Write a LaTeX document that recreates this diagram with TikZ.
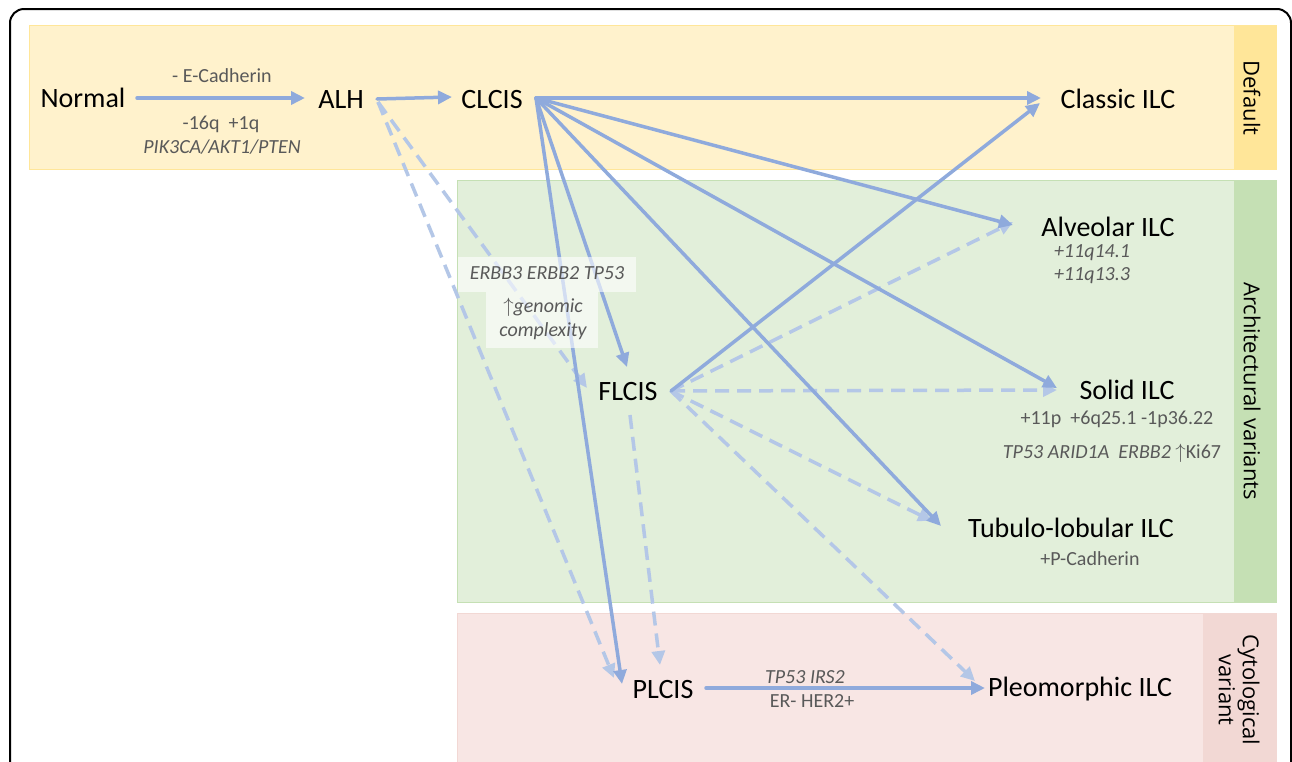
\documentclass[tikz,border=0pt]{standalone}
\usepackage{fontspec}
\setmainfont{Carlito}
\newfontfamily\bandfont{Open Sans}
\usetikzlibrary{arrows.meta}
\definecolor{solidblue}{HTML}{8FAADC}
\definecolor{dashblue}{HTML}{B4C7E7}
\definecolor{ylw}{HTML}{FFF2CC}
\definecolor{ylwstrip}{HTML}{FFE699}
\definecolor{grn}{HTML}{E2EFDA}
\definecolor{grnstrip}{HTML}{C5E0B4}
\definecolor{pnk}{HTML}{F8E6E4}
\definecolor{pnkstrip}{HTML}{F2D8D4}
\definecolor{lbl}{HTML}{595959}
\tikzset{
  mainnode/.style={font=\fontsize{28}{30}\selectfont, inner sep=0pt},
  lab/.style={font=\fontsize{20}{24}\selectfont, text=lbl, inner sep=0pt},
  ilab/.style={font=\fontsize{20}{24}\selectfont\itshape, text=lbl, inner sep=0pt},
  bandlab/.style={font=\bandfont\fontsize{22}{24}\selectfont, rotate=-90, inner sep=0pt, align=center},
  sarr/.style={draw=solidblue, line width=3.5pt, line cap=round, -{Triangle[length=14pt,width=13pt]}},
  darr/.style={draw=dashblue, line width=3.5pt, dash pattern=on 14pt off 8pt, -{Triangle[length=14pt,width=13pt]}},
  whitebox/.style={fill=white, fill opacity=0.6, draw=none}
}
\begin{document}
\begin{tikzpicture}[x=1pt,y=-1pt]
\useasboundingbox (0,0) rectangle (1292,761);
\fill[white] (0,0) rectangle (1292,761);
% outer frame
\draw[line width=2pt, rounded corners=14pt] (10,9) rectangle (1291,820);
% bands
\fill[ylw, draw=ylwstrip, line width=0.8pt] (29,25) rectangle (1276,169);
\fill[ylwstrip] (1234,25) rectangle (1276,169);
\fill[grn, draw=grnstrip, line width=1pt] (457,180) rectangle (1276,602);
\fill[grnstrip] (1234,180) rectangle (1276,602);
\fill[pnk, draw=pnkstrip, line width=1pt] (457,613) rectangle (1276,790);
\fill[pnkstrip] (1203,613) rectangle (1276,790);
\node[bandlab] (bDefault) at (1252,98) {Default};
\node[bandlab] (bArch) at (1252,391) {Architectural variants};
\node[bandlab] (bCyto) at (1239,690) {Cytological\\variant};

% main nodes
\node[mainnode] (normal) at (83,98) {Normal};
\node[mainnode] (alh) at (341,100) {ALH};
\node[mainnode] (clcis) at (492,100) {CLCIS};
\node[mainnode] (classic) at (1118,99) {Classic ILC};
\node[mainnode] (alv) at (1108,227) {Alveolar ILC};
\node[mainnode] (flcis) at (628,392) {FLCIS};
\node[mainnode] (solid) at (1127,390) {Solid ILC};
\node[mainnode] (tub) at (1071,528) {Tubulo-lobular ILC};
\node[mainnode] (plcis) at (663,689) {PLCIS};
\node[mainnode] (pleo) at (1080,689) {Pleomorphic ILC};

% labels
\node[lab] (lEcad) at (222,76) {- E-Cadherin};
\node[lab] (l16q) at (221,124) {-16q\ \ +1q};
\node[ilab] (lPIK) at (222,147) {PIK3CA/AKT1/PTEN};
\node[ilab] (l11a) at (1092,253) {+11q14.1};
\node[ilab] (l11b) at (1092,276) {+11q13.3};
\node[lab] (l11p) at (1117,419) {+11p\ \ +6q25.1 -1p36.22};
\node[lab] (lTP) at (1112,453) {\itshape TP53 ARID1A\ \ ERBB2 \upshape$\uparrow$Ki67};
\node[lab] (lPcad) at (1090,559) {+P-Cadherin};
\node[ilab] (lIRS) at (805,677) {TP53 IRS2};
\node[lab] (lER) at (812,701) {ER- HER2+};

% ports
\coordinate (normOut) at (137,98);
\coordinate (alhIn) at (305,98);
\coordinate (alhOut) at (377,99);
\coordinate (clcisIn) at (452,97);
\coordinate (alhD) at (378,102);
\coordinate (clcisOut) at (536,98);
\coordinate (classicIn) at (1041,98);
\coordinate (alvIn) at (1013,225);
\coordinate (solidIn) at (1057,388);
\coordinate (tubIn) at (941,526);
\coordinate (flcisIn) at (627,367);
\coordinate (plcisIn) at (622,684);
\coordinate (flcisOut) at (671,391);
\coordinate (classicIn2) at (1040,103);
\coordinate (flcisInD) at (587,388);
\coordinate (plcisInD) at (614,678);
\coordinate (flcisDown) at (630,415);
\coordinate (plcisInTop) at (660,665);
\coordinate (alvInD) at (1013,222);
\coordinate (solidInD) at (1057,390);
\coordinate (tubInD) at (932,521);
\coordinate (pleoInD) at (975,681);
\coordinate (plcisOut) at (706,688);
\coordinate (pleoIn) at (985,688);

% dashed arrows
\draw[darr] (alhD) -- (flcisInD);
\draw[darr] (alhD) -- (plcisInD);
\draw[darr] (flcisOut) -- (alvInD);
\draw[darr] (flcisOut) -- (solidInD);
\draw[darr] (flcisOut) -- (tubInD);
\draw[darr] (flcisOut) -- (pleoInD);
\draw[darr] (flcisDown) -- (plcisInTop);

% solid arrows
\draw[sarr] (normOut) -- (alhIn);
\draw[sarr] (alhOut) -- (clcisIn);
\draw[sarr] (clcisOut) -- (classicIn);
\draw[sarr] (clcisOut) -- (alvIn);
\draw[sarr] (clcisOut) -- (solidIn);
\draw[sarr] (clcisOut) -- (tubIn);
\draw[sarr] (clcisOut) -- (flcisIn);
\draw[sarr] (clcisOut) -- (plcisIn);
\draw[sarr] (flcisOut) -- (classicIn2);
\draw[sarr] (plcisOut) -- (pleoIn);

% translucent label boxes
\fill[whitebox] (458,257) rectangle (636,292);
\fill[whitebox] (486,292) rectangle (598,348);
\node[ilab] (lERBB) at (547,273) {ERBB3 ERBB2 TP53};
\node[lab, align=center] (lGen) at (543,319) {$\uparrow$\itshape genomic\\\itshape complexity};
\end{tikzpicture}
\end{document}
